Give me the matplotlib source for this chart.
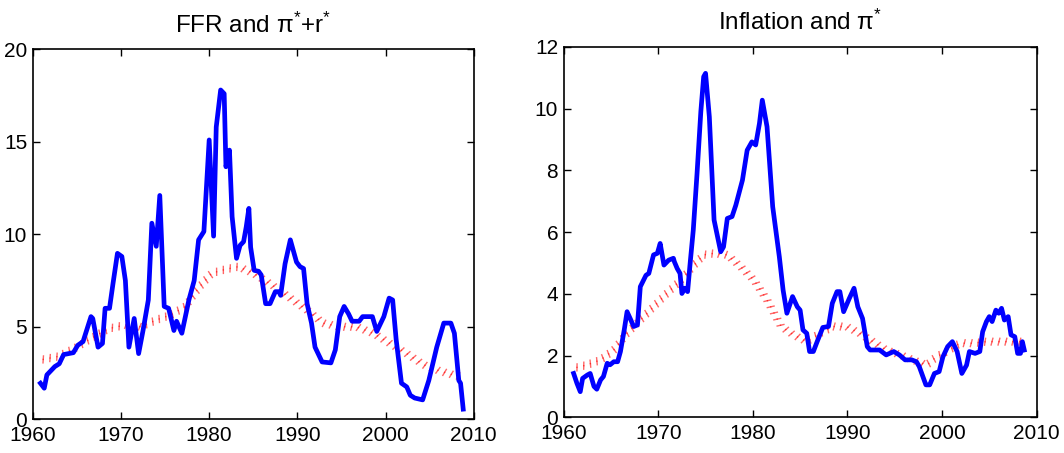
import matplotlib
matplotlib.use("Agg")
import matplotlib.pyplot as plt
import matplotlib.patheffects as pe

plt.rcParams["font.family"] = ["Liberation Sans", "DejaVu Sans"]
plt.rcParams["mathtext.fontset"] = "custom"
plt.rcParams["mathtext.rm"] = "Liberation Sans"
plt.rcParams["mathtext.it"] = "Liberation Sans"

# ── Federal funds rate and pi* + r* ──────────────────────────────────────────
ffr_year = [1960.87, 1961.3, 1961.6, 1962.5, 1963.0, 1963.5, 1964.6, 1965.1,
            1965.7, 1966.6, 1966.8, 1967.4, 1967.9, 1968.2, 1968.7, 1969.1,
            1969.6, 1970.1, 1970.5, 1970.9, 1971.5, 1972.0, 1972.5, 1973.1,
            1973.5, 1974.0, 1974.4, 1974.9, 1975.4, 1976.0, 1976.3, 1976.9,
            1977.7, 1978.3, 1978.8, 1979.4, 1980.0, 1980.5, 1980.8, 1981.3,
            1981.7, 1981.9, 1982.3, 1982.6, 1983.1, 1983.5, 1983.9, 1984.2,
            1984.5, 1984.7, 1985.1, 1985.6, 1985.9, 1986.4, 1986.9, 1987.5,
            1987.9, 1988.1, 1988.6, 1989.2, 1989.9, 1990.3, 1990.7, 1991.1,
            1991.6, 1992.0, 1992.8, 1993.8, 1994.3, 1994.8, 1995.3, 1995.8,
            1996.2, 1997.0, 1997.4, 1998.5, 1999.0, 1999.8, 2000.4, 2000.8,
            2001.2, 2001.8, 2002.4, 2002.8, 2003.3, 2004.2, 2004.9, 2005.8,
            2006.6, 2007.4, 2007.8, 2008.3, 2008.5, 2008.8]
ffr = [1.95, 1.68, 2.4, 2.85, 3.0, 3.5, 3.6, 4.0,
       4.2, 5.55, 5.45, 3.9, 4.1, 6.0, 6.0, 7.35,
       8.97, 8.8, 7.5, 3.9, 5.45, 3.55, 4.8, 6.45,
       10.6, 9.35, 12.1, 6.1, 6.0, 4.8, 5.3, 4.65,
       6.45, 7.5, 9.7, 10.15, 15.1, 9.9, 15.8, 17.8,
       17.6, 13.65, 14.55, 10.95, 8.7, 9.4, 9.6, 10.4,
       11.4, 9.3, 8.05, 8.0, 7.8, 6.25, 6.25, 6.9,
       6.9, 6.7, 8.4, 9.7, 8.5, 8.25, 8.15, 6.25,
       5.2, 3.9, 3.1, 3.05, 3.75, 5.55, 6.1, 5.7,
       5.3, 5.3, 5.55, 5.55, 4.75, 5.55, 6.55, 6.45,
       4.3, 1.95, 1.75, 1.3, 1.15, 1.05, 2.1, 3.9,
       5.2, 5.2, 4.65, 2.1, 1.95, 0.55]

star_year = [1960.8, 1962.9, 1964.8, 1966.7, 1968.6, 1970.5, 1972.2, 1974.2,
             1975.7, 1977.3, 1978.8, 1980.3, 1981.8, 1983.3, 1985.0, 1987.3,
             1989.2, 1991.1, 1992.9, 1994.8, 1996.7, 1998.6, 2000.5, 2002.4,
             2004.3, 2006.2, 2007.7, 2008.6]
pi_r_star = [3.2, 3.4, 3.85, 4.4, 4.9, 5.1, 5.0, 5.4,
             5.65, 6.1, 7.1, 7.9, 8.1, 8.25, 7.9, 7.2,
             6.55, 5.9, 5.2, 5.0, 5.0, 4.65, 4.1, 3.55,
             2.95, 2.6, 2.4, 2.3]

# ── Inflation and pi* ────────────────────────────────────────────────────────
infl_year = [1961.05, 1961.4, 1961.75, 1962.0, 1962.5, 1962.8, 1963.2, 1963.5,
             1963.9, 1964.2, 1964.6, 1964.9, 1965.3, 1965.7, 1966.0, 1966.4,
             1966.7, 1967.1, 1967.4, 1967.8, 1968.1, 1968.7, 1969.0, 1969.5,
             1969.9, 1970.2, 1970.6, 1971.1, 1971.6, 1971.7, 1972.0, 1972.3,
             1972.5, 1972.8, 1973.1, 1973.4, 1973.7, 1974.1, 1974.5, 1974.8,
             1975.0, 1975.4, 1975.9, 1976.6, 1976.9, 1977.3, 1977.8, 1978.2,
             1978.9, 1979.4, 1979.9, 1980.3, 1980.7, 1981.0, 1981.5, 1982.1,
             1982.8, 1983.2, 1983.6, 1984.2, 1984.7, 1985.0, 1985.3, 1985.7,
             1986.0, 1986.4, 1986.8, 1987.4, 1988.0, 1988.4, 1988.9, 1989.2,
             1989.6, 1990.2, 1990.7, 1991.1, 1991.6, 1992.1, 1992.4, 1993.4,
             1994.1, 1994.9, 1995.5, 1996.1, 1996.8, 1997.3, 1997.6, 1998.3,
             1998.7, 1999.2, 1999.7, 2000.1, 2000.6, 2001.1, 2001.6, 2002.1,
             2002.6, 2002.9, 2003.5, 2004.0, 2004.3, 2004.7, 2005.0, 2005.3,
             2005.7, 2006.0, 2006.3, 2006.6, 2007.0, 2007.3, 2007.7, 2008.0,
             2008.3, 2008.5, 2008.7]
inflation = [1.42, 1.1, 0.83, 1.26, 1.37, 1.42, 1.0, 0.91,
             1.21, 1.32, 1.75, 1.7, 1.8, 1.8, 2.13, 2.83,
             3.42, 3.15, 2.94, 2.99, 4.23, 4.6, 4.66, 5.26,
             5.31, 5.63, 4.93, 5.09, 5.15, 5.04, 4.82, 4.66,
             4.01, 4.18, 4.07, 5.09, 6.06, 7.9, 9.9, 11.03,
             11.14, 9.73, 6.39, 5.36, 5.52, 6.44, 6.5, 6.87,
             7.68, 8.65, 8.92, 8.82, 9.52, 10.27, 9.41, 6.82,
             5.2, 4.12, 3.37, 3.91, 3.58, 3.47, 2.83, 2.72,
             2.13, 2.13, 2.45, 2.91, 2.94, 3.69, 4.07, 4.07,
             3.42, 3.85, 4.18, 3.58, 3.2, 2.29, 2.18, 2.18,
             2.02, 2.13, 2.02, 1.86, 1.86, 1.8, 1.64, 1.05,
             1.05, 1.42, 1.48, 1.96, 2.29, 2.45, 2.13, 1.42,
             1.69, 2.13, 2.07, 2.13, 2.77, 3.1, 3.26, 3.1,
             3.47, 3.37, 3.53, 3.15, 3.26, 2.67, 2.61, 2.07,
             2.07, 2.45, 2.18]

pistar_year = [1961.05, 1962.5, 1963.9, 1965.3, 1966.7, 1968.1, 1969.5, 1970.9,
               1972.4, 1973.8, 1974.8, 1975.9, 1977.3, 1978.7, 1980.1, 1981.5,
               1983.0, 1984.3, 1985.7, 1987.1, 1988.5, 1989.9, 1991.3, 1992.7,
               1994.1, 1995.6, 1996.9, 1998.4, 1999.4, 2000.5, 2001.9, 2003.3,
               2004.7, 2006.1, 2007.5, 2008.6]
pi_star = [1.59, 1.7, 1.86, 2.18, 2.72, 3.15, 3.58, 4.01,
           4.45, 4.93, 5.26, 5.31, 5.26, 4.88, 4.45, 3.8,
           2.94, 2.67, 2.45, 2.72, 2.94, 2.94, 2.72, 2.45,
           2.18, 2.02, 1.86, 1.69, 1.96, 2.13, 2.4, 2.4,
           2.45, 2.45, 2.45, 2.45]

years_ticks = [1960, 1970, 1980, 1990, 2000, 2010]

# the trend is drawn only as short slanted hatch marks crossing its path
hatch = [pe.TickedStroke(angle=75, spacing=5.0, length=0.5,
                         linewidth=1.0, alpha=0.6),
         pe.TickedStroke(angle=-105, spacing=5.0, length=0.5,
                         linewidth=1.0, alpha=0.6)]


def style_axes(ax, yticks):
    ax.set_xlim(1960, 2010)
    ax.set_xticks(years_ticks)
    ax.set_ylim(yticks[0], yticks[-1])
    ax.set_yticks(yticks)
    ax.tick_params(direction="in", top=True, right=True, length=5,
                   width=1, labelsize=15)
    ax.tick_params(axis="x", pad=5)
    ax.tick_params(axis="y", pad=4)
    for s in ax.spines.values():
        s.set_linewidth(1.2)


fig = plt.figure(figsize=(10.64, 4.53), dpi=100)

ax1 = fig.add_axes([0.0308, 0.0744, 0.4145, 0.8168])
ax1.plot(star_year, pi_r_star, color="red", linewidth=1.0, path_effects=hatch)
ax1.plot(ffr_year, ffr, color="#0000ff", linewidth=3.4, solid_joinstyle="round")
style_axes(ax1, [0, 5, 10, 15, 20])
ax1.set_title("FFR and π$^{*}$+r$^{*}$", fontsize=17.5, pad=12)

ax2 = fig.add_axes([0.5298, 0.0788, 0.4444, 0.818])
ax2.plot(pistar_year, pi_star, color="red", linewidth=1.0, path_effects=hatch)
ax2.plot(infl_year, inflation, color="#0000ff", linewidth=3.4, solid_joinstyle="round")
style_axes(ax2, [0, 2, 4, 6, 8, 10, 12])
ax2.set_title("Inflation and π$^{*}$", fontsize=17.5, pad=12)

fig.savefig("out.png", dpi=100)
